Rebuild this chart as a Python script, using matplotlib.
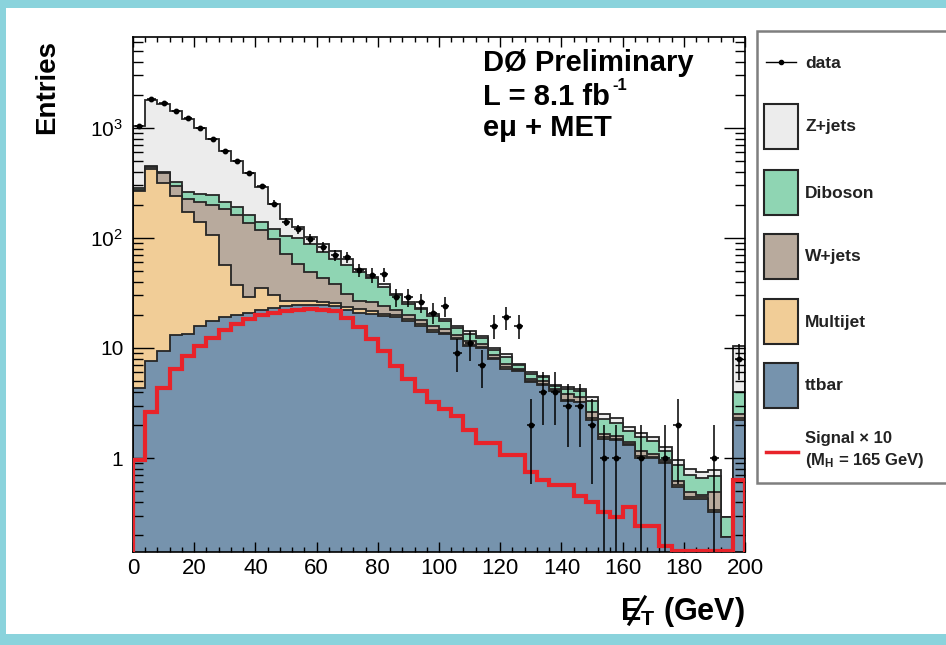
import numpy as np
import matplotlib
matplotlib.use("Agg")
import matplotlib.pyplot as plt
from matplotlib.patches import Rectangle
from matplotlib.lines import Line2D
from matplotlib.ticker import LogLocator, FixedLocator, FixedFormatter, MultipleLocator, NullFormatter

plt.rcParams["font.family"] = ["Liberation Sans", "DejaVu Sans"]
plt.rcParams["mathtext.fontset"] = "custom"
plt.rcParams["mathtext.rm"] = "Liberation Sans"
plt.rcParams["mathtext.bf"] = "Liberation Sans:bold"
plt.rcParams["mathtext.it"] = "Liberation Sans:italic"

# 4 GeV bins from 0 to 200 GeV (last bin holds the overflow)
bin_edges = np.linspace(0, 200, 51)

ttbar = [4.3, 7.6, 9.4, 13.0, 13.5, 16.0, 17.5, 19.0, 20.0, 21.0,
         22.0, 23.0, 24.0, 24.5, 24.5, 24.5, 24.0, 22.0, 21.0, 20.5,
         19.5, 19.0, 17.5, 16.0, 14.0, 13.5, 12.0, 10.5, 10.0, 8.0,
         6.5, 6.2, 4.9, 4.6, 4.1, 3.3, 3.2, 2.2, 1.5, 1.45,
         1.3, 1.0, 1.0, 0.9, 0.55, 0.42, 0.42, 0.32, 0.19, 2.2]
multijet = [261, 412, 308, 230, 158, 123, 89.5, 38, 17, 8,
            13, 7.5, 2.5, 2.0, 2.0, 1.5, 1.5, 1.5, 1.5, 1.0,
            1.0, 0.8, 0.7, 0.6, 0.5, 0.3, 0.3, 0.2, 0.2, 0.15,
            0.15, 0.1, 0.1, 0.1, 0.05, 0.1, 0.05, 0.1, 0.05, 0.05,
            0.05, 0.05, 0.03, 0.02, 0.02, 0.02, 0.02, 0.02, 0.0, 0.1]
wjets = [10, 20, 68, 52, 53, 71, 93, 128, 123, 109,
         83, 67.5, 45.5, 31.5, 22.5, 17, 12.5, 7.5, 4.5, 4.5,
         3.5, 2.2, 1.8, 1.4, 1.5, 1.0, 0.8, 0.8, 0.6, 0.4,
         0.5, 0.2, 0.2, 0.3, 0.1, 0.4, 0.3, 0.3, 0.1, 0.1,
         0.05, 0.1, 0.05, 0.03, 0.05, 0.05, 0.02, 0.15, 0.0, 0.2]
diboson = [10, 15, 10, 25, 37, 42, 48, 27, 30, 24,
           22, 22, 33, 42, 39, 32, 27, 26, 22, 17,
           12, 8, 5, 4.5, 3.5, 2.7, 2.0, 2.0, 1.5, 1.1,
           1.2, 0.5, 0.6, 0.4, 0.25, 0.4, 0.5, 0.7, 0.6, 0.5,
           0.35, 0.4, 0.35, 0.2, 0.24, 0.21, 0.2, 0.2, 0.1, 1.5]
zjets = [755, 1345, 1255, 1100, 938, 748, 552, 408, 310, 228,
         150, 85, 45, 25, 14, 13, 11, 8, 3, 1,
         2, 1, 1, 0.5, 1.0, 1.0, 0.7, 0.7, 0.5, 0.35,
         0.45, 0.2, 0.2, 0.2, 0.1, 0.2, 0.15, 0.3, 0.25, 0.2,
         0.15, 0.15, 0.12, 0.1, 0.1, 0.1, 0.09, 0.09, 0.0, 6.4]
signal_x10 = [0.95, 2.6, 4.3, 6.4, 8.5, 10.4, 12.3, 14.5, 16.5, 18.5,
              20.0, 20.8, 21.6, 22.3, 22.5, 22.3, 21.5, 18.7, 15.5, 12.0,
              9.4, 6.9, 5.2, 4.1, 3.2, 2.8, 2.4, 1.8, 1.36, 1.36,
              1.06, 1.06, 0.75, 0.63, 0.57, 0.57, 0.45, 0.40, 0.32, 0.29,
              0.36, 0.24, 0.24, 0.16, 0, 0, 0, 0, 0, 0.63]
data = [1040, 1850, 1700, 1420, 1220, 1000, 790, 620, 500, 390,
        295, 205, 139, 120, 98, 83, 70, 67, 51, 46,
        47, 29, 29, 26, 21, 24, 9, 11, 7, 16,
        19, 16, 2, 4, 4, 3, 3, 2, 1, 1,
        0, 1, 0, 1, 2, 0, 0, 1, 0, 8]

labels = ["ttbar", "Multijet", "W+jets", "Diboson", "Z+jets"]
colors = ["#7693ad", "#f1cd97", "#b8aa9d", "#8fd5b3", "#ececec"]
edge_col = "#262626"
YMIN, YMAX = 0.14, 6700

W, H = 946, 645
fig = plt.figure(figsize=(W / 100, H / 100), dpi=100)
fig.patch.set_facecolor("#8ad3dc")

# full-figure overlay in pixel coords for panel, legend and axis titles
ov = fig.add_axes([0, 0, 1, 1], zorder=0)
ov.set_xlim(0, W)
ov.set_ylim(H, 0)
ov.axis("off")
ov.add_patch(Rectangle((6, 8), W, 626, facecolor="white", edgecolor="none"))

ax = fig.add_axes([133 / W, 1 - 552 / H, (745 - 133) / W, (552 - 37) / H], zorder=2)
ax.set_facecolor("white")

stack = np.cumsum(np.array([ttbar, multijet, wjets, diboson, zjets]), axis=0)
for i in range(len(labels) - 1, -1, -1):
    ax.stairs(stack[i], bin_edges, baseline=1e-3, fill=True,
              facecolor=colors[i], edgecolor=edge_col, linewidth=1.3)

ax.stairs(np.clip(signal_x10, YMIN * 1.02, None), bin_edges, color="#e8232a",
          linewidth=3.0, zorder=3)

d = np.array(data, dtype=float)
centers = 0.5 * (bin_edges[:-1] + bin_edges[1:])
m = d > 0
err = np.sqrt(d[m])
lo = np.minimum(err, d[m] - 0.01)
ax.errorbar(centers[m], d[m], yerr=[lo, err], xerr=1.4, fmt="o", color="black",
            markersize=3.2, elinewidth=1.1, capsize=0, zorder=4)

ax.set_yscale("log")
ax.set_xlim(0, 200)
ax.set_ylim(YMIN, YMAX)
ax.set_axisbelow(False)
ax.xaxis.set_major_locator(MultipleLocator(20))
ax.xaxis.set_minor_locator(MultipleLocator(4))
ax.yaxis.set_major_locator(FixedLocator([1, 10, 100, 1000]))
ax.yaxis.set_major_formatter(FixedFormatter(["1", "10", r"$10^{2}$", r"$10^{3}$"]))
ax.yaxis.set_minor_locator(LogLocator(base=10, subs=np.arange(2, 10)))
ax.yaxis.set_minor_formatter(NullFormatter())
ax.tick_params(axis="x", which="major", direction="in", length=7.5, width=1.0,
               top=True, labelsize=16, pad=4)
ax.tick_params(axis="x", which="minor", direction="in", length=3.8, width=1.0, top=True)
ax.tick_params(axis="y", which="major", direction="in", length=15, width=1.0,
               right=True, labelsize=15, pad=7)
ax.tick_params(axis="y", which="minor", direction="in", length=7.5, width=1.0, right=True)
for sp in ax.spines.values():
    sp.set_linewidth(1.2)

ax.text(483, 63, "DØ Preliminary", transform=ov.transData, fontsize=21,
        fontweight="bold", va="center", ha="left")
ax.text(483, 97, "L = 8.1 fb", transform=ov.transData, fontsize=21,
        fontweight="bold", va="center", ha="left")
ax.text(612, 86, "-1", transform=ov.transData, fontsize=12,
        fontweight="bold", va="center", ha="left")
ax.text(483, 128, "eμ + MET", transform=ov.transData, fontsize=21,
        fontweight="bold", va="center", ha="left")

# axis titles
ov.text(47, 87, "Entries", rotation=90, fontsize=20, fontweight="bold",
        ha="center", va="center")
ov.text(745, 612, r"$\mathbf{E}_{\mathbf{T}}$ (GeV)", fontsize=22, fontweight="bold",
        ha="right", va="center")
ov.add_line(Line2D([629, 645], [624, 597], color="black", linewidth=2.2))

# legend box
ov.add_patch(Rectangle((757, 31), 210, 452, facecolor="white", edgecolor="#7f7f7f",
                       linewidth=1.8))
ov.add_line(Line2D([766, 796], [62, 62], color="black", linewidth=1.0))
ov.plot([781], [62], "o", color="black", markersize=3)
ov.text(805, 63, "data", fontsize=12.5, fontweight="bold", va="center", color="#222222")
leg_tops = [363, 299, 234, 170, 104]
for i in range(len(labels) - 1, -1, -1):
    top = leg_tops[i]
    ov.add_patch(Rectangle((764, top), 34, 45, facecolor=colors[i], edgecolor=edge_col,
                           linewidth=1.5))
    ov.text(805, top + 23, labels[i], fontsize=12.5, fontweight="bold", va="center",
            color="#222222")
ov.add_line(Line2D([766, 798], [452, 452], color="#e8232a", linewidth=2.5))
ov.text(805, 439, "Signal × 10", fontsize=12, fontweight="bold", va="center",
        color="#222222")
ov.text(805, 460, r"(M$_{\mathbf{H}}$ = 165 GeV)", fontsize=12, fontweight="bold",
        va="center", color="#222222")

fig.savefig("out.png", dpi=100, facecolor=fig.get_facecolor())
